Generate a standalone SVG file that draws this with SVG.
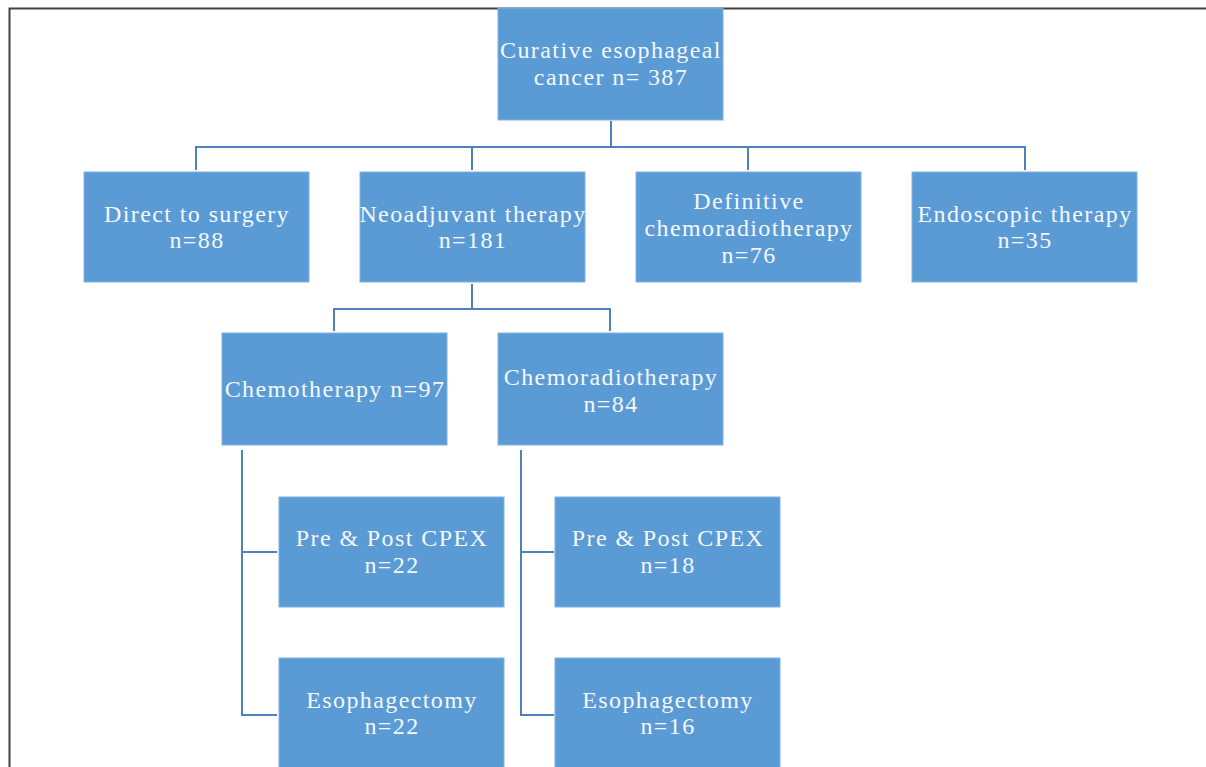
<svg xmlns="http://www.w3.org/2000/svg" width="1206" height="767" viewBox="0 0 1206 767">
<style>
.box{fill:#5B9BD5;stroke:#7FB2E0;stroke-width:1}
.t{font-family:"Liberation Serif","Times New Roman",serif;font-size:24px;fill:#F4F8FC;text-anchor:middle;letter-spacing:1.4px}
.c{fill:none;stroke:#4F81BD;stroke-width:2}
</style>
<rect x="0" y="0" width="1206" height="767" fill="#FFFFFF"/>
<path d="M9.5,767 V8.5 H1206" fill="none" stroke="#404040" stroke-width="2"/>
<g id="connectors">
<path class="c" d="M611,121 V147"/>
<path class="c" d="M196,170 V147 H1025 V170"/>
<path class="c" d="M472,147 V170 M748,147 V170"/>
<path class="c" d="M472,284 V309"/>
<path class="c" d="M334,331 V309 H610 V331"/>
<path class="c" d="M242,450 V715 H277 M242,552 H277"/>
<path class="c" d="M521,450 V715 H554 M521,552 H554"/>
</g>
<g id="root"><rect class="box" x="498" y="8" width="225" height="112"/><text class="t" x="611" y="58">Curative esophageal</text><text class="t" x="611" y="85">cancer n= 387</text></g>
<g id="direct"><rect class="box" x="84" y="172" width="225" height="110"/><text class="t" x="197" y="222">Direct to surgery</text><text class="t" x="197" y="248">n=88</text></g>
<g id="neo"><rect class="box" x="360" y="172" width="225" height="110"/><text class="t" x="473" y="222">Neoadjuvant therapy</text><text class="t" x="473" y="248">n=181</text></g>
<g id="definitive"><rect class="box" x="636" y="172" width="225" height="110"/><text class="t" x="749" y="209">Definitive</text><text class="t" x="749" y="236">chemoradiotherapy</text><text class="t" x="749" y="263">n=76</text></g>
<g id="endo"><rect class="box" x="912" y="172" width="225" height="110"/><text class="t" x="1025" y="222">Endoscopic therapy</text><text class="t" x="1025" y="248">n=35</text></g>
<g id="chemo"><rect class="box" x="222" y="333" width="225" height="112"/><text class="t" x="335" y="397">Chemotherapy n=97</text></g>
<g id="chemorad"><rect class="box" x="498" y="333" width="225" height="112"/><text class="t" x="611" y="385">Chemoradiotherapy</text><text class="t" x="611" y="412">n=84</text></g>
<g id="cpex1"><rect class="box" x="279" y="497" width="225" height="110"/><text class="t" x="392" y="546">Pre &amp; Post CPEX</text><text class="t" x="392" y="573">n=22</text></g>
<g id="eso1"><rect class="box" x="279" y="658" width="225" height="115"/><text class="t" x="392" y="708">Esophagectomy</text><text class="t" x="392" y="734">n=22</text></g>
<g id="cpex2"><rect class="box" x="555" y="497" width="225" height="110"/><text class="t" x="668" y="546">Pre &amp; Post CPEX</text><text class="t" x="668" y="573">n=18</text></g>
<g id="eso2"><rect class="box" x="555" y="658" width="225" height="115"/><text class="t" x="668" y="708">Esophagectomy</text><text class="t" x="668" y="734">n=16</text></g>
</svg>
